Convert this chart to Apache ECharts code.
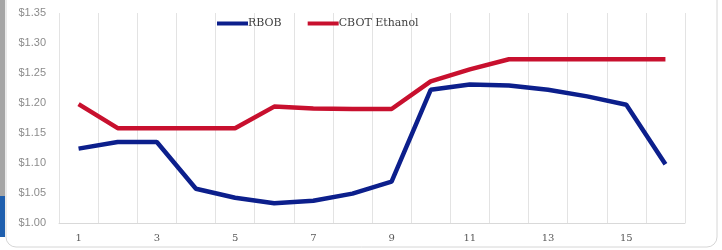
<!DOCTYPE html>
<html><head><meta charset="utf-8">
<script src="https://cdn.jsdelivr.net/npm/echarts@6/dist/echarts.min.js"></script>
<style>html,body{margin:0;padding:0;background:#fff}#c{width:722px;height:250px}</style>
</head><body><div id="c"></div>
<script>
const categories = ['1','2','3','4','5','6','7','8','9','10','11','12','13','14','15','16'];
const rbob = [1.124, 1.135, 1.135, 1.057, 1.042, 1.033, 1.037, 1.049, 1.069, 1.222, 1.231, 1.229, 1.222, 1.211, 1.197, 1.098];
const cbotEthanol = [1.198, 1.158, 1.158, 1.158, 1.158, 1.194, 1.191, 1.190, 1.190, 1.236, 1.256, 1.273, 1.273, 1.273, 1.273, 1.273];
const yMin = 1.00, yMax = 1.35, yStep = 0.05;

const chart = echarts.init(document.getElementById('c'));
chart.setOption({
  animation: false,
  backgroundColor: '#fff',
  graphic: [
    { type: 'rect', shape: { x: 6, y: -30, width: 711, height: 277, r: 10 }, style: { fill: 'none', stroke: '#d6d6d6', lineWidth: 1 }, z: -1 },
    { type: 'rect', shape: { x: 0, y: 0, width: 5, height: 196 }, style: { fill: '#a6a6a6' } },
    { type: 'rect', shape: { x: 0, y: 196, width: 5, height: 41 }, style: { fill: '#1f5fae' } }
  ],
  legend: {
    top: 13, left: 212,
    itemWidth: 31, itemHeight: 4, itemGap: 26,
    icon: 'rect',
    textStyle: { fontFamily: 'DejaVu Serif', fontSize: 11, color: '#404040', padding: [0,0,0,-5] },
    data: ['RBOB', 'CBOT Ethanol']
  },
  grid: { left: 59, right: 37, top: 13, bottom: 27 },
  xAxis: {
    type: 'category', data: categories, boundaryGap: true,
    axisLine: { lineStyle: { color: '#d9d9d9' } },
    axisTick: { show: false },
    axisLabel: { interval: 1, fontFamily: 'DejaVu Serif', fontSize: 10, color: '#595959', margin: 10 },
    splitLine: { show: true, interval: 0, lineStyle: { color: '#e3e3e3' } }
  },
  yAxis: {
    type: 'value', min: yMin, max: yMax, interval: yStep,
    axisLine: { show: false }, axisTick: { show: false },
    splitLine: { show: false },
    axisLabel: { formatter: v => '$' + v.toFixed(2), fontFamily: 'Liberation Sans', fontSize: 11, color: '#8c8c8c', margin: 13 }
  },
  series: [
    { name: 'RBOB', type: 'line', data: rbob, symbol: 'none', lineStyle: { width: 4.5, color: '#0c1f8c' }, itemStyle: { color: '#0c1f8c' } },
    { name: 'CBOT Ethanol', type: 'line', data: cbotEthanol, symbol: 'none', lineStyle: { width: 4.5, color: '#c8102e' }, itemStyle: { color: '#c8102e' } }
  ]
});
</script></body></html>
